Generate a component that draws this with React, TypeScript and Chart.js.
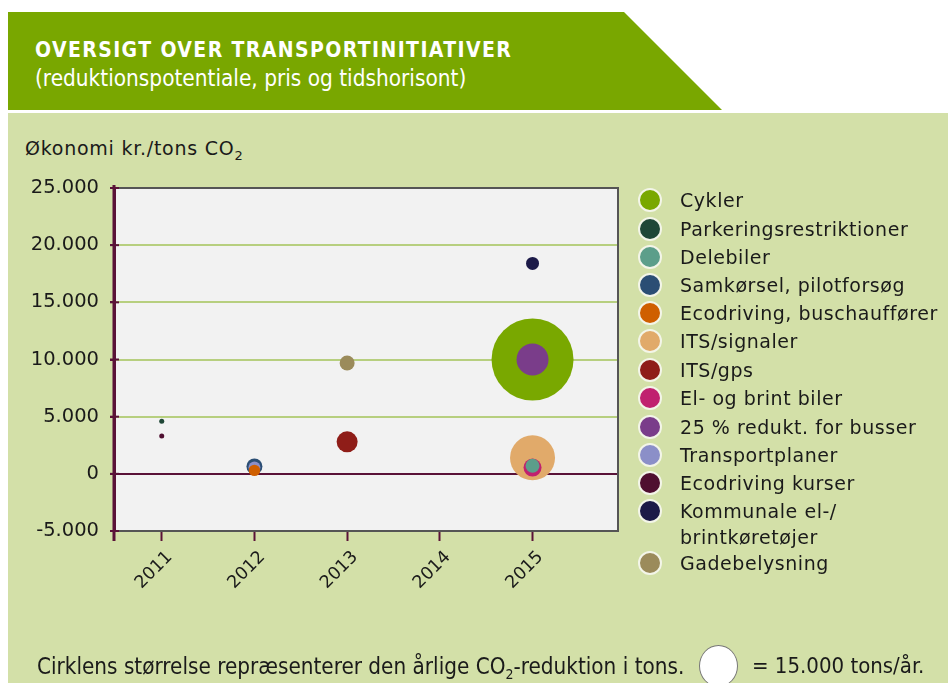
import React, { useEffect, useRef } from 'react';
import { Chart, registerables } from 'chart.js';

Chart.register(...registerables);

// ---------- data ----------
const years = [2011, 2012, 2013, 2014, 2015];
const yTickValues = [-5000, 0, 5000, 10000, 15000, 20000, 25000];

const initiatives = [
  'Cykler',
  'Parkeringsrestriktioner',
  'Delebiler',
  'Samkørsel, pilotforsøg',
  'Ecodriving, buschauffører',
  'ITS/signaler',
  'ITS/gps',
  'El- og brint biler',
  '25 % redukt. for busser',
  'Transportplaner',
  'Ecodriving kurser',
  'Kommunale el-/\nbrintkøretøjer',
  'Gadebelysning',
];
// year of each initiative
const initiativeYears = [2015, 2011, 2015, 2012, 2012, 2015, 2013, 2015, 2015, 2012, 2011, 2015, 2013];
// economy, kr. per ton CO2
const costPerTon = [10000, 4600, 700, 650, 300, 1400, 2800, 550, 10000, 550, 3300, 18400, 9700];
// bubble radius (annual CO2 reduction), px
const bubbleRadius = [41, 2.5, 7, 8, 5.7, 22.5, 10.5, 9, 16, 6, 2.5, 6.5, 7.5];
const colors = [
  '#79a800',
  '#1f4737',
  '#5c9e8a',
  '#2b4e74',
  '#cf5f00',
  '#e1aa6a',
  '#8f1d18',
  '#c0216f',
  '#7a3d8a',
  '#8b8fc8',
  '#4f0f30',
  '#1c1a48',
  '#9b8b5b',
];

const FONT_WIDE = '"DejaVu Sans", sans-serif';
const FONT_COND = '"DejaVu Sans Condensed", "DejaVu Sans", sans-serif';
const MAROON = '#5a1238';
const GRID_GREEN = '#b7cf7f';

function fmt(v: number): string {
  const s = Math.abs(v).toString().replace(/\B(?=(\d{3})+(?!\d))/g, '.');
  return (v < 0 ? '-' : '') + s;
}

const framePlugin = {
  id: 'framePlugin',
  beforeDraw(chart: any) {
    const { ctx, chartArea: a } = chart;
    ctx.save();
    ctx.fillStyle = '#f2f2f2';
    ctx.fillRect(a.left, a.top, a.right - a.left, a.bottom - a.top);
    ctx.restore();
  },
  afterDraw(chart: any) {
    const { ctx, chartArea: a } = chart;
    const ys = chart.scales.y;
    ctx.save();
    // top & right frame
    ctx.strokeStyle = '#555555';
    ctx.lineWidth = 2;
    ctx.beginPath();
    ctx.moveTo(a.left, a.top);
    ctx.lineTo(a.right, a.top);
    ctx.lineTo(a.right, a.bottom);
    ctx.stroke();
    // left axis extension (maroon)
    ctx.strokeStyle = MAROON;
    ctx.lineWidth = 3;
    ctx.beginPath();
    ctx.moveTo(a.left, a.top - 3);
    ctx.lineTo(a.left, a.bottom + 10);
    ctx.stroke();
    // y tick marks crossing axis
    ctx.lineWidth = 2;
    ys.ticks.forEach((t: any) => {
      const py = ys.getPixelForValue(t.value);
      ctx.beginPath();
      ctx.moveTo(a.left - 4, py);
      ctx.lineTo(a.left + 5, py);
      ctx.stroke();
    });
    ctx.restore();
  },
};

function BubbleChart() {
  const ref = useRef<HTMLCanvasElement | null>(null);
  useEffect(() => {
    if (!ref.current) return;
    const datasets = initiatives.map((name, i) => ({
      label: name,
      data: [{ x: initiativeYears[i], y: costPerTon[i], r: bubbleRadius[i] }],
      backgroundColor: colors[i],
      borderColor: colors[i],
      borderWidth: 0,
      order: bubbleRadius[i],
    }));
    const chart = new Chart(ref.current, {
      type: 'bubble',
      data: { datasets },
      options: {
        animation: false,
        responsive: false,
        maintainAspectRatio: false,
        events: [],
        layout: { padding: { left: 14, top: 188, right: 330, bottom: 72 } },
        plugins: { legend: { display: false }, tooltip: { enabled: false } },
        scales: {
          x: {
            type: 'linear',
            min: 2010.485,
            max: 2015.922,
            afterBuildTicks: (scale: any) => {
              scale.ticks = years.map((v) => ({ value: v }));
            },
            afterFit: (scale: any) => {
              scale.height = 80;
            },
            ticks: {
              callback: (v: any) => String(v),
              minRotation: 45,
              maxRotation: 45,
              padding: 6,
              labelOffset: 8,
              color: '#1a1a1a',
              font: { family: FONT_WIDE, size: 17.5 },
            },
            grid: {
              drawOnChartArea: false,
              drawTicks: true,
              tickLength: 10,
              tickColor: MAROON,
              tickWidth: 2,
            },
            border: { display: true, color: '#555555', width: 2 },
          },
          y: {
            type: 'linear',
            min: -5000,
            max: 25000,
            afterBuildTicks: (scale: any) => {
              scale.ticks = yTickValues.map((v) => ({ value: v }));
            },
            afterFit: (scale: any) => {
              scale.width = 100;
            },
            ticks: {
              callback: (v: any) => fmt(Number(v)),
              padding: 11,
              color: '#1a1a1a',
              font: { family: FONT_WIDE, size: 19.5 },
            },
            grid: {
              color: (c: any) => {
                const v = c.tick && c.tick.value;
                if (v === 0) return MAROON;
                if (v === -5000 || v === 25000) return 'rgba(0,0,0,0)';
                return GRID_GREEN;
              },
              lineWidth: 2,
              drawTicks: true,
              tickLength: 4,
              tickColor: MAROON,
            },
            border: { display: true, color: MAROON, width: 3 },
          },
        },
      },
      plugins: [framePlugin],
    });
    return () => chart.destroy();
  }, []);
  return (
    <canvas
      ref={ref}
      width={948}
      height={683}
      style={{ position: 'absolute', left: 0, top: 0, width: 948, height: 683 }}
    />
  );
}

const legendY = [200, 229, 257, 285, 313, 341, 370, 398, 427, 455, 483, 511, 563];

export default function App() {
  return (
    <div
      style={{
        position: 'absolute',
        left: 0,
        top: 0,
        width: 948,
        height: 683,
        background: '#ffffff',
        overflow: 'hidden',
        fontFamily: FONT_WIDE,
        color: '#1a1a1a',
      }}
    >
      {/* header */}
      <div
        style={{
          position: 'absolute',
          left: 8,
          top: 12,
          width: 714,
          height: 98,
          background: '#79a700',
          clipPath: 'polygon(0 0, 616px 0, 714px 98px, 0 98px)',
        }}
      />
      <div
        style={{
          position: 'absolute',
          left: 35,
          top: 40,
          fontFamily: FONT_COND,
          fontSize: 21,
          lineHeight: '21px',
          letterSpacing: 1.4,
          fontWeight: 'bold',
          color: '#ffffff',
          whiteSpace: 'nowrap',
        }}
      >
        OVERSIGT OVER TRANSPORTINITIATIVER
      </div>
      <div
        style={{
          position: 'absolute',
          left: 35,
          top: 67,
          fontFamily: FONT_COND,
          fontSize: 22.4,
          lineHeight: '22px',
          color: '#ffffff',
          whiteSpace: 'nowrap',
        }}
      >
        (reduktionspotentiale, pris og tidshorisont)
      </div>
      {/* panel */}
      <div
        style={{
          position: 'absolute',
          left: 8,
          top: 113,
          width: 940,
          height: 570,
          background: '#d3e0a8',
        }}
      />
      <div
        style={{
          position: 'absolute',
          left: 25,
          top: 139,
          fontSize: 19,
          lineHeight: '19px',
          letterSpacing: 0.75,
          whiteSpace: 'nowrap',
        }}
      >
        Økonomi kr./tons CO<sub style={{ fontSize: 13, verticalAlign: '-5px' }}>2</sub>
      </div>

      <BubbleChart />

      {/* legend */}
      {initiatives.map((name, i) => (
        <React.Fragment key={name}>
          <div
            style={{
              position: 'absolute',
              left: 650 - 12,
              top: legendY[i] - 12,
              width: 20,
              height: 20,
              borderRadius: '50%',
              background: colors[i],
              border: '2px solid #f3f5e8',
            }}
          />
          <div
            style={{
              position: 'absolute',
              left: 680,
              top: legendY[i] - 13,
              fontSize: 19,
              lineHeight: '26px',
              letterSpacing: 0.55,
              whiteSpace: 'pre',
            }}
          >
            {name}
          </div>
        </React.Fragment>
      ))}

      {/* bottom note */}
      <div
        style={{
          position: 'absolute',
          left: 37,
          top: 655,
          fontFamily: FONT_COND,
          fontSize: 22.3,
          lineHeight: '22px',
          whiteSpace: 'nowrap',
        }}
      >
        Cirklens størrelse repræsenterer den årlige CO<sub style={{ fontSize: 14, verticalAlign: '-5px' }}>2</sub>-reduktion i tons.
      </div>
      <div
        style={{
          position: 'absolute',
          left: 699,
          top: 645,
          width: 37,
          height: 40,
          borderRadius: '50%',
          background: '#ffffff',
          border: '1px solid #777777',
        }}
      />
      <div
        style={{
          position: 'absolute',
          left: 752,
          top: 655,
          fontFamily: FONT_COND,
          fontSize: 22,
          lineHeight: '22px',
          whiteSpace: 'nowrap',
        }}
      >
        = 15.000 tons/år.
      </div>
    </div>
  );
}
